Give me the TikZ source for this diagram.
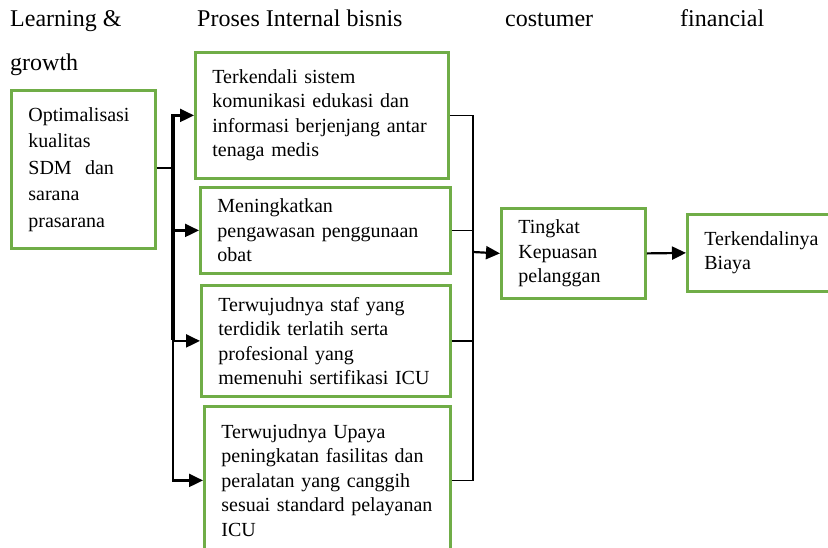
\documentclass[tikz,border=0pt]{standalone}
\usepackage{fontspec}
\setmainfont{Liberation Serif}
\usetikzlibrary{arrows.meta}
\definecolor{boxgreen}{RGB}{112,173,71}
\begin{document}
\begin{tikzpicture}[x=1pt,y=-1pt,
  gbox/.style={draw=boxgreen, line width=2.8pt, anchor=north west, align=left,
    inner xsep=17pt, inner ysep=0pt, font=\fontsize{20}{24.5}\selectfont},
  head/.style={anchor=base west, inner sep=0pt, font=\fontsize{24}{28}\selectfont},
  arr/.style={line width=2.2pt, -{Triangle[length=14pt,width=13pt]}},
  thin/.style={line width=1.8pt}]
\clip (0,0) rectangle (828,547);
\fill[white] (0,0) rectangle (828,547);
% headers
\node[head] (h1) at (10,26) {Learning \&};
\node[head] (h2) at (10,70) {growth};
\node[head] (h3) at (197,26) {Proses Internal bisnis};
\node[head] (h4) at (505,26) {costumer};
\node[head] (h5) at (680,26) {financial};
% boxes
\node[gbox, text width=110pt, minimum height=158pt, font=\fontsize{20}{26.5}\selectfont] (A) at (10,89)
  {Optimalisasi\\kualitas\\SDM~ dan\\sarana\\prasarana};
\node[gbox, text width=219pt, minimum height=126pt] (B1) at (194,51)
  {Terkendali sistem\\komunikasi edukasi dan\\informasi berjenjang antar\\tenaga medis};
\node[gbox, text width=216pt, minimum height=86pt] (B2) at (199,186)
  {Meningkatkan\\pengawasan penggunaan\\obat};
\node[gbox, text width=215pt, minimum height=111pt] (B3) at (200,284)
  {Terwujudnya staf yang\\terdidik terlatih serta\\profesional yang\\memenuhi sertifikasi ICU};
\node[gbox, text width=212pt, minimum height=148pt] (B4) at (203,405)
  {Terwujudnya Upaya\\peningkatan fasilitas dan\\peralatan yang canggih\\sesuai standard pelayanan\\ICU};
\node[gbox, text width=110pt, minimum height=90pt] (C) at (500,207)
  {Tingkat\\Kepuasan\\pelanggan};
\node[gbox, text width=112pt, minimum height=77pt] (D) at (686,213)
  {Terkendalinya\\Biaya};
% left connectors
\coordinate (J) at (173,168);
\draw[line width=2.8pt] (A.east |- J) -- (J);
\draw[line width=3.2pt] (J) -- (173,114);
\draw[line width=3.2pt] (J) -- (173,340);
\draw[arr] (J) |- (B1.west);
\draw[arr] (J) |- (B2.west);
\draw[arr] (J) |- (B3.west);
\draw[arr] (J) |- (B4.west);
% right connectors
\coordinate (K) at (473,252);
\draw[thin] (B1.east) -| (K);
\draw[thin] (B2.east) -| (K);
\draw[thin] (B3.east) -| (K);
\draw[thin] (B4.east) -| (K);
\draw[arr] (K) -- (C.west);
\draw[arr] (C.east) -- (D.west);
\end{tikzpicture}
\end{document}
